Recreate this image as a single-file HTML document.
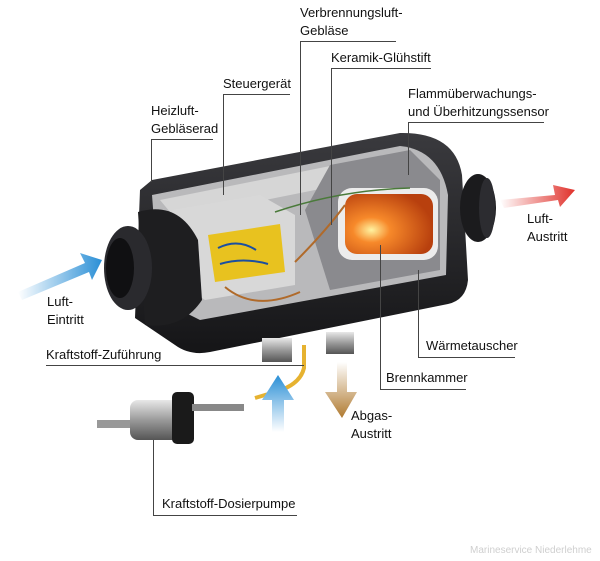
<!DOCTYPE html>
<html><head><meta charset="utf-8"><style>
html,body{margin:0;padding:0;background:#fff;}
svg{display:block;}
text{font-family:"Liberation Sans",sans-serif;font-size:13px;fill:#111;}
</style></head><body>
<svg width="600" height="561" viewBox="0 0 600 561" xmlns="http://www.w3.org/2000/svg">
<defs>
<linearGradient id="blueL" x1="0" x2="1"><stop offset="0" stop-color="#fff"/><stop offset="1" stop-color="#2a8fd6"/></linearGradient>
<linearGradient id="blueU" x1="0" y1="1" x2="0" y2="0"><stop offset="0" stop-color="#fff"/><stop offset="1" stop-color="#2a8fd6"/></linearGradient>
<linearGradient id="redR" x1="0" x2="1"><stop offset="0" stop-color="#fff"/><stop offset="1" stop-color="#e0302a"/></linearGradient>
<linearGradient id="brownD" x1="0" y1="0" x2="0" y2="1"><stop offset="0" stop-color="#fff"/><stop offset="1" stop-color="#b07a30"/></linearGradient>
<radialGradient id="fire" cx="0.3" cy="0.6" r="0.7"><stop offset="0" stop-color="#fff3a0"/><stop offset="0.3" stop-color="#f7892a"/><stop offset="1" stop-color="#b8400e"/></radialGradient>
<linearGradient id="body" x1="0" y1="0" x2="0" y2="1"><stop offset="0" stop-color="#3a3a3e"/><stop offset="1" stop-color="#151517"/></linearGradient>
<linearGradient id="metal" x1="0" y1="0" x2="0" y2="1"><stop offset="0" stop-color="#e8e8e8"/><stop offset="0.5" stop-color="#9a9a9a"/><stop offset="1" stop-color="#555"/></linearGradient>
</defs>

<!-- body -->
<path d="M140,190 L152,180 L400,133 Q455,132 462,175 L468,280 Q466,300 448,304 L210,352 Q190,356 175,345 L135,318 Z" fill="url(#body)"/>
<!-- outlet -->
<ellipse cx="478" cy="208" rx="18" ry="34" fill="#1b1b1d"/>
<ellipse cx="487" cy="208" rx="8" ry="30" fill="#2c2c30"/>
<!-- cutaway interior -->
<path d="M152,195 L400,146 Q440,150 448,195 L446,275 L200,320 L160,300 Z" fill="#b9b9bb"/>
<path d="M160,200 L360,160 L365,180 L175,218 Z" fill="#d6d6d6"/>
<path d="M330,165 L410,150 L440,180 L440,270 L330,290 L305,210 Z" fill="#8a8a8e"/>
<rect x="338" y="188" width="100" height="72" rx="14" fill="#ececec"/>
<rect x="345" y="194" width="88" height="60" rx="12" fill="url(#fire)"/>
<!-- control unit -->
<path d="M172,210 L260,195 L295,215 L295,285 L205,300 L175,280 Z" fill="#d8d8d8"/>
<path d="M208,235 L280,224 L285,272 L215,282 Z" fill="#e8c21f"/>
<path d="M218,248 Q238,238 256,250 M220,264 Q243,257 268,264" stroke="#1b4fa0" stroke-width="2" fill="none"/>
<path d="M225,287 Q255,312 300,292 M295,262 Q325,232 345,205" stroke="#b06a2a" stroke-width="2" fill="none"/>
<path d="M275,212 Q340,190 410,188" stroke="#4a7a3a" stroke-width="1.5" fill="none"/>
<!-- fan cone -->
<path d="M138,212 Q178,200 198,240 L202,300 Q182,330 145,325 Z" fill="#1e1e20"/>
<ellipse cx="128" cy="268" rx="24" ry="42" fill="#2a2a2e"/>
<ellipse cx="120" cy="268" rx="14" ry="30" fill="#101012"/>
<!-- bottom pipes -->
<rect x="262" y="338" width="30" height="24" fill="url(#metal)"/>
<rect x="326" y="332" width="28" height="22" fill="url(#metal)"/>
<!-- fuel line -->
<path d="M304,345 L304,368 Q300,385 275,392 L255,398" stroke="#e6b230" stroke-width="4" fill="none"/>
<!-- pump -->
<rect x="97" y="420" width="40" height="8" fill="#999"/>
<rect x="130" y="400" width="52" height="40" rx="8" fill="url(#metal)"/>
<rect x="172" y="392" width="22" height="52" rx="5" fill="#1a1a1a"/>
<rect x="192" y="404" width="52" height="7" fill="#888"/>
<!-- arrows -->
<path d="M18,292 L85,263 L80,253 L102,260 L92,280 L89,272 L22,300 Z" fill="url(#blueL)"/>
<path d="M500,200 L555,195 L553,185 L575,190 L560,207 L558,200 L504,208 Z" fill="url(#redR)"/>
<path d="M272,432 L272,400 L262,400 L278,375 L294,400 L284,400 L284,432 Z" fill="url(#blueU)"/>
<path d="M337,362 L347,362 L347,392 L357,392 L342,418 L325,392 L337,392 Z" fill="url(#brownD)"/>

<!-- leader lines -->
<g stroke="#444" stroke-width="1" fill="none">
<path d="M396,41.5 H300.5 V215"/>
<path d="M431,68.5 H331.5 V225"/>
<path d="M290,94.5 H223.5 V195"/>
<path d="M213,139.5 H151.5 V182"/>
<path d="M544,122.5 H408.5 V175"/>
<path d="M46,365.5 H304"/>
<path d="M515,357.5 H418.5 V270"/>
<path d="M466,389.5 H380.5 V245"/>
<path d="M297,515.5 H153.5 V440"/>
</g>

<!-- labels -->
<text x="300" y="17">Verbrennungsluft-</text>
<text x="300" y="35">Gebläse</text>
<text x="331" y="62">Keramik-Glühstift</text>
<text x="223" y="88">Steuergerät</text>
<text x="151" y="115">Heizluft-</text>
<text x="151" y="133">Gebläserad</text>
<text x="408" y="98">Flammüberwachungs-</text>
<text x="408" y="116">und Überhitzungssensor</text>
<text x="527" y="223">Luft-</text>
<text x="527" y="241">Austritt</text>
<text x="47" y="306">Luft-</text>
<text x="47" y="324">Eintritt</text>
<text x="46" y="359">Kraftstoff-Zuführung</text>
<text x="426" y="350">Wärmetauscher</text>
<text x="386" y="382">Brennkammer</text>
<text x="351" y="420">Abgas-</text>
<text x="351" y="438">Austritt</text>
<text x="162" y="508">Kraftstoff-Dosierpumpe</text>
<text x="470" y="553" style="font-size:10px;fill:#cfcfcf">Marineservice Niederlehme</text>
</svg>
</body></html>
